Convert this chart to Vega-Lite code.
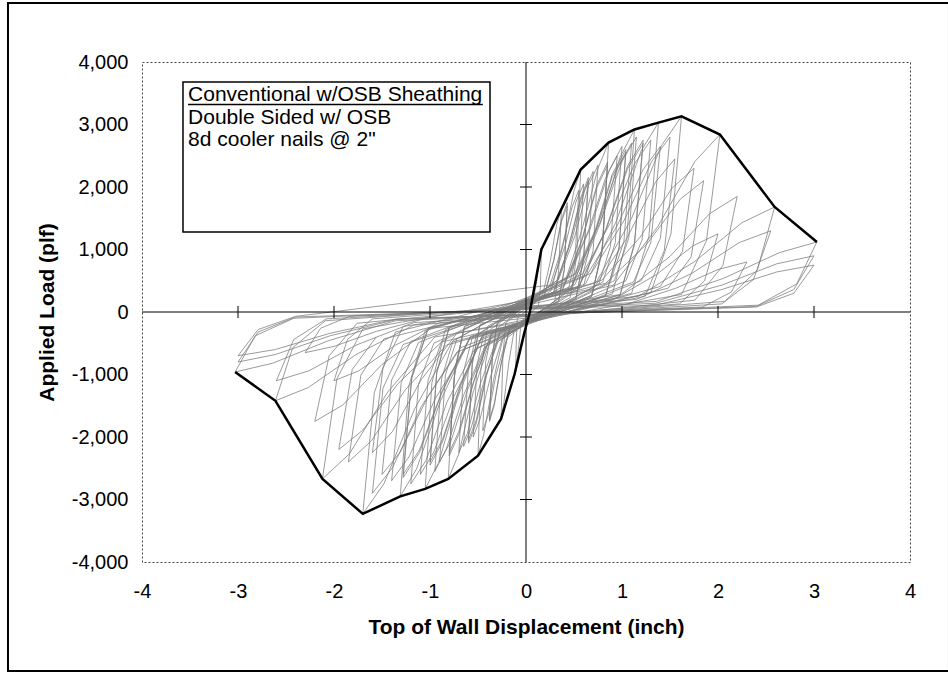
{
  "$schema": "https://vega.github.io/schema/vega-lite/v6.json",
  "width": 768,
  "height": 500,
  "autosize": {"type": "none"},
  "padding": {"left": 142, "top": 62, "right": 38, "bottom": 112},
  "background": "white",
  "config": {
    "font": "Liberation Sans",
    "view": {"stroke": "#444", "strokeWidth": 1, "strokeDash": [2, 2]},
    "locale": {"number": {"decimal": ".", "thousands": ",", "grouping": [3], "currency": ["$", ""], "minus": "-"}}
  },
  "datasets": {
    "loops": [
      {"t":0,"x":0,"y":0},
      {"t":101,"x":0.07,"y":150},{"t":102,"x":0.11,"y":480},{"t":103,"x":0.14,"y":850},{"t":104,"x":0.16,"y":1000},{"t":105,"x":0.15,"y":400},{"t":106,"x":0.13,"y":100},{"t":107,"x":-0.05,"y":-150},{"t":108,"x":-0.07,"y":-480},{"t":109,"x":-0.10,"y":-850},{"t":110,"x":-0.11,"y":-1000},{"t":111,"x":-0.10,"y":-400},{"t":112,"x":-0.09,"y":-100},
      {"t":201,"x":0.17,"y":250},{"t":202,"x":0.25,"y":790},{"t":203,"x":0.32,"y":1400},{"t":204,"x":0.37,"y":1650},{"t":205,"x":0.34,"y":660},{"t":206,"x":0.30,"y":170},{"t":207,"x":-0.12,"y":-260},{"t":208,"x":-0.18,"y":-820},{"t":209,"x":-0.23,"y":-1450},{"t":210,"x":-0.26,"y":-1710},{"t":211,"x":-0.24,"y":-680},{"t":212,"x":-0.21,"y":-170},
      {"t":301,"x":0.26,"y":340},{"t":302,"x":0.39,"y":1090},{"t":303,"x":0.50,"y":1940},{"t":304,"x":0.57,"y":2280},{"t":305,"x":0.53,"y":910},{"t":306,"x":0.46,"y":230},{"t":307,"x":-0.23,"y":-350},{"t":308,"x":-0.34,"y":-1100},{"t":309,"x":-0.44,"y":-1960},{"t":310,"x":-0.50,"y":-2300},{"t":311,"x":-0.47,"y":-920},{"t":312,"x":-0.40,"y":-230},
      {"t":401,"x":0.19,"y":260},{"t":402,"x":0.29,"y":840},{"t":403,"x":0.37,"y":1490},{"t":404,"x":0.43,"y":1750},{"t":405,"x":0.40,"y":700},{"t":406,"x":0.34,"y":180},{"t":407,"x":-0.17,"y":-260},{"t":408,"x":-0.26,"y":-840},{"t":409,"x":-0.33,"y":-1490},{"t":410,"x":-0.38,"y":-1750},{"t":411,"x":-0.35,"y":-700},{"t":412,"x":-0.30,"y":-180},
      {"t":501,"x":0.19,"y":250},{"t":502,"x":0.29,"y":820},{"t":503,"x":0.37,"y":1450},{"t":504,"x":0.43,"y":1700},{"t":505,"x":0.40,"y":680},{"t":506,"x":0.34,"y":170},{"t":507,"x":-0.17,"y":-260},{"t":508,"x":-0.26,"y":-830},{"t":509,"x":-0.33,"y":-1460},{"t":510,"x":-0.38,"y":-1720},{"t":511,"x":-0.35,"y":-690},{"t":512,"x":-0.30,"y":-170},
      {"t":601,"x":0.39,"y":410},{"t":602,"x":0.58,"y":1300},{"t":603,"x":0.75,"y":2300},{"t":604,"x":0.86,"y":2710},{"t":605,"x":0.80,"y":1080},{"t":606,"x":0.69,"y":270},{"t":607,"x":-0.36,"y":-400},{"t":608,"x":-0.55,"y":-1280},{"t":609,"x":-0.70,"y":-2270},{"t":610,"x":-0.81,"y":-2670},{"t":611,"x":-0.75,"y":-1070},{"t":612,"x":-0.65,"y":-270},
      {"t":701,"x":0.29,"y":320},{"t":702,"x":0.44,"y":1030},{"t":703,"x":0.57,"y":1830},{"t":704,"x":0.65,"y":2150},{"t":705,"x":0.60,"y":860},{"t":706,"x":0.52,"y":220},{"t":707,"x":-0.27,"y":-320},{"t":708,"x":-0.41,"y":-1010},{"t":709,"x":-0.52,"y":-1790},{"t":710,"x":-0.60,"y":-2100},{"t":711,"x":-0.56,"y":-840},{"t":712,"x":-0.48,"y":-210},
      {"t":801,"x":0.29,"y":320},{"t":802,"x":0.44,"y":1010},{"t":803,"x":0.57,"y":1790},{"t":804,"x":0.65,"y":2100},{"t":805,"x":0.60,"y":840},{"t":806,"x":0.52,"y":210},{"t":807,"x":-0.27,"y":-310},{"t":808,"x":-0.41,"y":-980},{"t":809,"x":-0.52,"y":-1740},{"t":810,"x":-0.60,"y":-2050},{"t":811,"x":-0.56,"y":-820},{"t":812,"x":-0.48,"y":-210},
      {"t":901,"x":0.51,"y":440},{"t":902,"x":0.77,"y":1400},{"t":903,"x":0.98,"y":2480},{"t":904,"x":1.13,"y":2920},{"t":905,"x":1.05,"y":1170},{"t":906,"x":0.90,"y":290},{"t":907,"x":-0.47,"y":-420},{"t":908,"x":-0.71,"y":-1360},{"t":909,"x":-0.91,"y":-2410},{"t":910,"x":-1.05,"y":-2830},{"t":911,"x":-0.98,"y":-1130},{"t":912,"x":-0.84,"y":-280},
      {"t":1001,"x":0.38,"y":360},{"t":1002,"x":0.58,"y":1150},{"t":1003,"x":0.74,"y":2040},{"t":1004,"x":0.85,"y":2400},{"t":1005,"x":0.79,"y":960},{"t":1006,"x":0.68,"y":240},{"t":1007,"x":-0.36,"y":-350},{"t":1008,"x":-0.54,"y":-1100},{"t":1009,"x":-0.70,"y":-1960},{"t":1010,"x":-0.80,"y":-2300},{"t":1011,"x":-0.74,"y":-920},{"t":1012,"x":-0.64,"y":-230},
      {"t":1101,"x":0.38,"y":350},{"t":1102,"x":0.58,"y":1130},{"t":1103,"x":0.74,"y":2000},{"t":1104,"x":0.85,"y":2350},{"t":1105,"x":0.79,"y":940},{"t":1106,"x":0.68,"y":240},{"t":1107,"x":-0.36,"y":-340},{"t":1108,"x":-0.54,"y":-1080},{"t":1109,"x":-0.70,"y":-1910},{"t":1110,"x":-0.80,"y":-2250},{"t":1111,"x":-0.74,"y":-900},{"t":1112,"x":-0.64,"y":-230},
      {"t":1201,"x":0.62,"y":450},{"t":1202,"x":0.94,"y":1450},{"t":1203,"x":1.20,"y":2580},{"t":1204,"x":1.38,"y":3030},{"t":1205,"x":1.28,"y":1210},{"t":1206,"x":1.10,"y":300},{"t":1207,"x":-0.59,"y":-440},{"t":1208,"x":-0.89,"y":-1420},{"t":1209,"x":-1.14,"y":-2510},{"t":1210,"x":-1.31,"y":-2950},{"t":1211,"x":-1.22,"y":-1180},{"t":1212,"x":-1.05,"y":-300},
      {"t":1301,"x":0.47,"y":390},{"t":1302,"x":0.71,"y":1250},{"t":1303,"x":0.90,"y":2210},{"t":1304,"x":1.04,"y":2600},{"t":1305,"x":0.97,"y":1040},{"t":1306,"x":0.83,"y":260},{"t":1307,"x":-0.45,"y":-370},{"t":1308,"x":-0.68,"y":-1180},{"t":1309,"x":-0.87,"y":-2080},{"t":1310,"x":-1.00,"y":-2450},{"t":1311,"x":-0.93,"y":-980},{"t":1312,"x":-0.80,"y":-250},
      {"t":1401,"x":0.47,"y":380},{"t":1402,"x":0.71,"y":1220},{"t":1403,"x":0.90,"y":2170},{"t":1404,"x":1.04,"y":2550},{"t":1405,"x":0.97,"y":1020},{"t":1406,"x":0.83,"y":260},{"t":1407,"x":-0.45,"y":-360},{"t":1408,"x":-0.68,"y":-1150},{"t":1409,"x":-0.87,"y":-2040},{"t":1410,"x":-1.00,"y":-2400},{"t":1411,"x":-0.93,"y":-960},{"t":1412,"x":-0.80,"y":-240},
      {"t":1501,"x":0.73,"y":470},{"t":1502,"x":1.10,"y":1500},{"t":1503,"x":1.41,"y":2660},{"t":1504,"x":1.62,"y":3130},{"t":1505,"x":1.51,"y":1250},{"t":1506,"x":1.30,"y":310},{"t":1507,"x":-0.77,"y":-480},{"t":1508,"x":-1.16,"y":-1550},{"t":1509,"x":-1.48,"y":-2750},{"t":1510,"x":-1.70,"y":-3230},{"t":1511,"x":-1.58,"y":-1290},{"t":1512,"x":-1.36,"y":-320},
      {"t":1601,"x":0.55,"y":410},{"t":1602,"x":0.83,"y":1320},{"t":1603,"x":1.06,"y":2340},{"t":1604,"x":1.22,"y":2750},{"t":1605,"x":1.13,"y":1100},{"t":1606,"x":0.98,"y":280},{"t":1607,"x":-0.58,"y":-400},{"t":1608,"x":-0.87,"y":-1270},{"t":1609,"x":-1.11,"y":-2250},{"t":1610,"x":-1.28,"y":-2650},{"t":1611,"x":-1.19,"y":-1060},{"t":1612,"x":-1.02,"y":-270},
      {"t":1701,"x":0.55,"y":400},{"t":1702,"x":0.83,"y":1300},{"t":1703,"x":1.06,"y":2300},{"t":1704,"x":1.22,"y":2700},{"t":1705,"x":1.13,"y":1080},{"t":1706,"x":0.98,"y":270},{"t":1707,"x":-0.58,"y":-390},{"t":1708,"x":-0.87,"y":-1250},{"t":1709,"x":-1.11,"y":-2210},{"t":1710,"x":-1.28,"y":-2600},{"t":1711,"x":-1.19,"y":-1040},{"t":1712,"x":-1.02,"y":-260},
      {"t":1801,"x":0.91,"y":430},{"t":1802,"x":1.37,"y":1360},{"t":1803,"x":1.76,"y":2410},{"t":1804,"x":2.02,"y":2840},{"t":1805,"x":1.88,"y":1140},{"t":1806,"x":1.62,"y":280},{"t":1807,"x":-0.95,"y":-400},{"t":1808,"x":-1.44,"y":-1280},{"t":1809,"x":-1.84,"y":-2270},{"t":1810,"x":-2.12,"y":-2670},{"t":1811,"x":-1.97,"y":-1070},{"t":1812,"x":-1.70,"y":-270},
      {"t":1901,"x":0.70,"y":370},{"t":1902,"x":1.05,"y":1180},{"t":1903,"x":1.35,"y":2080},{"t":1904,"x":1.55,"y":2450},{"t":1905,"x":1.44,"y":980},{"t":1906,"x":1.24,"y":250},{"t":1907,"x":-0.72,"y":-340},{"t":1908,"x":-1.09,"y":-1080},{"t":1909,"x":-1.39,"y":-1910},{"t":1910,"x":-1.60,"y":-2250},{"t":1911,"x":-1.49,"y":-900},{"t":1912,"x":-1.28,"y":-230},
      {"t":2001,"x":0.99,"y":280},{"t":2002,"x":1.50,"y":890},{"t":2003,"x":1.91,"y":1570},{"t":2004,"x":2.20,"y":1850},{"t":2005,"x":2.05,"y":740},{"t":2006,"x":1.76,"y":190},{"t":2007,"x":-0.99,"y":-260},{"t":2008,"x":-1.50,"y":-840},{"t":2009,"x":-1.91,"y":-1490},{"t":2010,"x":-2.20,"y":-1750},{"t":2011,"x":-2.05,"y":-700},{"t":2012,"x":-1.76,"y":-180},
      {"t":2101,"x":1.17,"y":250},{"t":2102,"x":1.76,"y":810},{"t":2103,"x":2.25,"y":1430},{"t":2104,"x":2.59,"y":1680},{"t":2105,"x":2.41,"y":670},{"t":2106,"x":2.07,"y":170},{"t":2107,"x":-1.17,"y":-210},{"t":2108,"x":-1.77,"y":-680},{"t":2109,"x":-2.27,"y":-1210},{"t":2110,"x":-2.61,"y":-1420},{"t":2111,"x":-2.43,"y":-570},{"t":2112,"x":-2.09,"y":-140},
      {"t":2201,"x":0.90,"y":190},{"t":2202,"x":1.36,"y":600},{"t":2203,"x":1.74,"y":1060},{"t":2204,"x":2.00,"y":1250},{"t":2205,"x":1.86,"y":500},{"t":2206,"x":1.60,"y":130},{"t":2207,"x":-0.90,"y":-170},{"t":2208,"x":-1.36,"y":-530},{"t":2209,"x":-1.74,"y":-940},{"t":2210,"x":-2.00,"y":-1100},{"t":2211,"x":-1.86,"y":-440},{"t":2212,"x":-1.60,"y":-110},
      {"t":2301,"x":1.15,"y":200},{"t":2302,"x":1.73,"y":620},{"t":2303,"x":2.22,"y":1110},{"t":2304,"x":2.55,"y":1300},{"t":2305,"x":2.37,"y":520},{"t":2306,"x":2.04,"y":130},{"t":2307,"x":-1.17,"y":-170},{"t":2308,"x":-1.77,"y":-530},{"t":2309,"x":-2.26,"y":-940},{"t":2310,"x":-2.60,"y":-1100},{"t":2311,"x":-2.42,"y":-440},{"t":2312,"x":-2.08,"y":-110},
      {"t":2401,"x":1.36,"y":170},{"t":2402,"x":2.06,"y":540},{"t":2403,"x":2.64,"y":950},{"t":2404,"x":3.03,"y":1120},{"t":2405,"x":2.82,"y":450},{"t":2406,"x":2.42,"y":110},{"t":2407,"x":-1.36,"y":-140},{"t":2408,"x":-2.06,"y":-460},{"t":2409,"x":-2.64,"y":-820},{"t":2410,"x":-3.03,"y":-960},{"t":2411,"x":-2.82,"y":-380},{"t":2412,"x":-2.42,"y":-100},
      {"t":2501,"x":1.04,"y":120},{"t":2502,"x":1.56,"y":380},{"t":2503,"x":2.00,"y":680},{"t":2504,"x":2.30,"y":800},{"t":2505,"x":2.14,"y":320},{"t":2506,"x":1.84,"y":80},{"t":2507,"x":-1.04,"y":-100},{"t":2508,"x":-1.56,"y":-310},{"t":2509,"x":-2.00,"y":-550},{"t":2510,"x":-2.30,"y":-650},{"t":2511,"x":-2.14,"y":-260},{"t":2512,"x":-1.84,"y":-70},
      {"t":2601,"x":1.35,"y":140},{"t":2602,"x":2.04,"y":430},{"t":2603,"x":2.61,"y":770},{"t":2604,"x":3.00,"y":900},{"t":2605,"x":2.79,"y":360},{"t":2606,"x":2.40,"y":90},{"t":2607,"x":-1.35,"y":-120},{"t":2608,"x":-2.04,"y":-380},{"t":2609,"x":-2.61,"y":-680},{"t":2610,"x":-3.00,"y":-800},{"t":2611,"x":-2.79,"y":-320},{"t":2612,"x":-2.40,"y":-80},
      {"t":2701,"x":1.35,"y":110},{"t":2702,"x":2.04,"y":360},{"t":2703,"x":2.61,"y":640},{"t":2704,"x":3.00,"y":750},{"t":2705,"x":2.79,"y":300},{"t":2706,"x":2.40,"y":80},{"t":2707,"x":-1.35,"y":-110},{"t":2708,"x":-2.04,"y":-340},{"t":2709,"x":-2.61,"y":-600},{"t":2710,"x":-3.00,"y":-700},{"t":2711,"x":-2.79,"y":-280},{"t":2712,"x":-2.40,"y":-70},
      {"t":2801,"x":0.25,"y":430},{"t":2802,"x":0.37,"y":1010},{"t":2803,"x":0.48,"y":1680},{"t":2804,"x":0.55,"y":1950},{"t":2805,"x":0.51,"y":820},{"t":2806,"x":0.44,"y":350},{"t":2807,"x":-0.20,"y":-420},{"t":2808,"x":-0.31,"y":-990},{"t":2809,"x":-0.39,"y":-1630},{"t":2810,"x":-0.45,"y":-1900},{"t":2811,"x":-0.42,"y":-800},{"t":2812,"x":-0.36,"y":-340},
      {"t":2901,"x":0.27,"y":450},{"t":2902,"x":0.41,"y":1070},{"t":2903,"x":0.52,"y":1760},{"t":2904,"x":0.60,"y":2050},{"t":2905,"x":0.56,"y":860},{"t":2906,"x":0.48,"y":370},{"t":2907,"x":-0.25,"y":-440},{"t":2908,"x":-0.37,"y":-1040},{"t":2909,"x":-0.48,"y":-1720},{"t":2910,"x":-0.55,"y":-2000},{"t":2911,"x":-0.51,"y":-840},{"t":2912,"x":-0.44,"y":-360},
      {"t":3001,"x":0.32,"y":500},{"t":3002,"x":0.48,"y":1170},{"t":3003,"x":0.61,"y":1940},{"t":3004,"x":0.70,"y":2250},{"t":3005,"x":0.65,"y":950},{"t":3006,"x":0.56,"y":410},{"t":3007,"x":-0.29,"y":-470},{"t":3008,"x":-0.44,"y":-1120},{"t":3009,"x":-0.57,"y":-1850},{"t":3010,"x":-0.65,"y":-2150},{"t":3011,"x":-0.60,"y":-900},{"t":3012,"x":-0.52,"y":-390},
      {"t":3101,"x":0.34,"y":520},{"t":3102,"x":0.51,"y":1220},{"t":3103,"x":0.65,"y":2020},{"t":3104,"x":0.75,"y":2350},{"t":3105,"x":0.70,"y":990},{"t":3106,"x":0.60,"y":420},{"t":3107,"x":-0.32,"y":-500},{"t":3108,"x":-0.48,"y":-1170},{"t":3109,"x":-0.61,"y":-1940},{"t":3110,"x":-0.70,"y":-2250},{"t":3111,"x":-0.65,"y":-950},{"t":3112,"x":-0.56,"y":-410},
      {"t":3201,"x":0.43,"y":550},{"t":3202,"x":0.65,"y":1300},{"t":3203,"x":0.83,"y":2150},{"t":3204,"x":0.95,"y":2500},{"t":3205,"x":0.88,"y":1050},{"t":3206,"x":0.76,"y":450},{"t":3207,"x":-0.41,"y":-530},{"t":3208,"x":-0.61,"y":-1250},{"t":3209,"x":-0.78,"y":-2060},{"t":3210,"x":-0.90,"y":-2400},{"t":3211,"x":-0.84,"y":-1010},{"t":3212,"x":-0.72,"y":-430},
      {"t":3301,"x":0.45,"y":580},{"t":3302,"x":0.68,"y":1380},{"t":3303,"x":0.87,"y":2280},{"t":3304,"x":1.00,"y":2650},{"t":3305,"x":0.93,"y":1110},{"t":3306,"x":0.80,"y":480},{"t":3307,"x":-0.43,"y":-560},{"t":3308,"x":-0.65,"y":-1330},{"t":3309,"x":-0.83,"y":-2190},{"t":3310,"x":-0.95,"y":-2550},{"t":3311,"x":-0.88,"y":-1070},{"t":3312,"x":-0.76,"y":-460},
      {"t":3401,"x":0.50,"y":590},{"t":3402,"x":0.75,"y":1400},{"t":3403,"x":0.96,"y":2320},{"t":3404,"x":1.10,"y":2700},{"t":3405,"x":1.02,"y":1130},{"t":3406,"x":0.88,"y":490},{"t":3407,"x":-0.50,"y":-570},{"t":3408,"x":-0.75,"y":-1350},{"t":3409,"x":-0.96,"y":-2240},{"t":3410,"x":-1.10,"y":-2600},{"t":3411,"x":-1.02,"y":-1090},{"t":3412,"x":-0.88,"y":-470},
      {"t":3501,"x":0.52,"y":620},{"t":3502,"x":0.78,"y":1460},{"t":3503,"x":1.00,"y":2410},{"t":3504,"x":1.15,"y":2800},{"t":3505,"x":1.07,"y":1180},{"t":3506,"x":0.92,"y":500},{"t":3507,"x":-0.54,"y":-610},{"t":3508,"x":-0.82,"y":-1430},{"t":3509,"x":-1.04,"y":-2370},{"t":3510,"x":-1.20,"y":-2750},{"t":3511,"x":-1.12,"y":-1160},{"t":3512,"x":-0.96,"y":-500},
      {"t":3601,"x":0.59,"y":610},{"t":3602,"x":0.88,"y":1430},{"t":3603,"x":1.13,"y":2370},{"t":3604,"x":1.30,"y":2750},{"t":3605,"x":1.21,"y":1160},{"t":3606,"x":1.04,"y":500},{"t":3607,"x":-0.63,"y":-590},{"t":3608,"x":-0.95,"y":-1400},{"t":3609,"x":-1.22,"y":-2320},{"t":3610,"x":-1.40,"y":-2700},{"t":3611,"x":-1.30,"y":-1130},{"t":3612,"x":-1.12,"y":-490},
      {"t":3701,"x":0.63,"y":580},{"t":3702,"x":0.95,"y":1380},{"t":3703,"x":1.22,"y":2280},{"t":3704,"x":1.40,"y":2650},{"t":3705,"x":1.30,"y":1110},{"t":3706,"x":1.12,"y":480},{"t":3707,"x":-0.68,"y":-570},{"t":3708,"x":-1.02,"y":-1350},{"t":3709,"x":-1.31,"y":-2240},{"t":3710,"x":-1.50,"y":-2600},{"t":3711,"x":-1.40,"y":-1090},{"t":3712,"x":-1.20,"y":-470},
      {"t":3801,"x":0.68,"y":620},{"t":3802,"x":1.02,"y":1460},{"t":3803,"x":1.31,"y":2410},{"t":3804,"x":1.50,"y":2800},{"t":3805,"x":1.40,"y":1180},{"t":3806,"x":1.20,"y":500},{"t":3807,"x":-0.72,"y":-640},{"t":3808,"x":-1.09,"y":-1510},{"t":3809,"x":-1.39,"y":-2490},{"t":3810,"x":-1.60,"y":-2900},{"t":3811,"x":-1.49,"y":-1220},{"t":3812,"x":-1.28,"y":-520},
      {"t":3901,"x":0.79,"y":510},{"t":3902,"x":1.19,"y":1200},{"t":3903,"x":1.52,"y":1980},{"t":3904,"x":1.75,"y":2300},{"t":3905,"x":1.63,"y":970},{"t":3906,"x":1.40,"y":410},{"t":3907,"x":-0.83,"y":-530},{"t":3908,"x":-1.26,"y":-1250},{"t":3909,"x":-1.61,"y":-2060},{"t":3910,"x":-1.85,"y":-2400},{"t":3911,"x":-1.72,"y":-1010},{"t":3912,"x":-1.48,"y":-430},
      {"t":4001,"x":0.83,"y":460},{"t":4002,"x":1.26,"y":1090},{"t":4003,"x":1.61,"y":1810},{"t":4004,"x":1.85,"y":2100},{"t":4005,"x":1.72,"y":880},{"t":4006,"x":1.48,"y":380},{"t":4007,"x":-0.88,"y":-480},{"t":4008,"x":-1.33,"y":-1140},{"t":4009,"x":-1.70,"y":-1890},{"t":4010,"x":-1.95,"y":-2200},{"t":4011,"x":-1.81,"y":-920},{"t":4012,"x":-1.56,"y":-400}
    ],
    "env": [
      {"i":1,"x":-3.03,"y":-960},{"i":2,"x":-2.61,"y":-1420},{"i":3,"x":-2.12,"y":-2670},{"i":4,"x":-1.70,"y":-3230},{"i":5,"x":-1.31,"y":-2950},{"i":6,"x":-1.05,"y":-2830},{"i":7,"x":-0.81,"y":-2670},{"i":8,"x":-0.50,"y":-2300},{"i":9,"x":-0.26,"y":-1710},{"i":10,"x":-0.12,"y":-1000},{"i":11,"x":-0.02,"y":-350},{"i":12,"x":0.04,"y":0},{"i":13,"x":0.16,"y":1000},{"i":14,"x":0.37,"y":1650},{"i":15,"x":0.57,"y":2280},{"i":16,"x":0.86,"y":2710},{"i":17,"x":1.13,"y":2920},{"i":18,"x":1.38,"y":3030},{"i":19,"x":1.62,"y":3130},{"i":20,"x":2.02,"y":2840},{"i":21,"x":2.59,"y":1680},{"i":22,"x":3.03,"y":1120}
    ],
    "xt": [{"v":-3},{"v":-2},{"v":-1},{"v":1},{"v":2},{"v":3}],
    "yt": [{"v":-3000},{"v":-2000},{"v":-1000},{"v":1000},{"v":2000},{"v":3000}],
    "one": [{"n": 1}]
  },
  "layer": [
    {
      "data": {"name": "loops"},
      "mark": {"type": "line", "color": "#7c7c7c", "strokeWidth": 0.9, "opacity": 0.85},
      "encoding": {
        "x": {"field": "x", "type": "quantitative", "scale": {"domain": [-4, 4], "nice": false, "zero": false},
          "axis": {"title": "Top of Wall Displacement (inch)", "values": [-4, -3, -2, -1, 0, 1, 2, 3, 4], "format": "d",
            "domain": false, "ticks": false, "grid": false,
            "labelFontSize": 20, "labelColor": "black", "labelPadding": 19, "labelFlush": false, "labelOverlap": false,
            "titleFontSize": 21, "titleFontWeight": "bold", "titleColor": "black", "titlePadding": 15}},
        "y": {"field": "y", "type": "quantitative", "scale": {"domain": [-4000, 4000], "nice": false, "zero": false},
          "axis": {"title": "Applied Load (plf)", "values": [-4000, -3000, -2000, -1000, 0, 1000, 2000, 3000, 4000], "format": ",.0f",
            "domain": false, "ticks": false, "grid": false,
            "labelFontSize": 20, "labelColor": "black", "labelPadding": 14, "labelFlush": false, "labelOverlap": false,
            "titleFontSize": 21, "titleFontWeight": "bold", "titleColor": "black", "titlePadding": 14}},
        "order": {"field": "t", "type": "quantitative"}
      }
    },
    {
      "data": {"name": "one"},
      "mark": {"type": "rule", "color": "black", "strokeWidth": 1},
      "encoding": {
        "x": {"datum": 0, "type": "quantitative"},
        "y": {"datum": -4000, "type": "quantitative"},
        "y2": {"datum": 4000}
      }
    },
    {
      "data": {"name": "one"},
      "mark": {"type": "rule", "color": "black", "strokeWidth": 1},
      "encoding": {
        "y": {"datum": 0, "type": "quantitative"},
        "x": {"datum": -4, "type": "quantitative"},
        "x2": {"datum": 4}
      }
    },
    {
      "data": {"name": "xt"},
      "mark": {"type": "tick", "orient": "vertical", "size": 12, "thickness": 1, "color": "black", "opacity": 1},
      "encoding": {
        "x": {"field": "v", "type": "quantitative"},
        "y": {"datum": 0, "type": "quantitative"}
      }
    },
    {
      "data": {"name": "yt"},
      "mark": {"type": "tick", "orient": "horizontal", "size": 12, "thickness": 1, "color": "black", "opacity": 1},
      "encoding": {
        "y": {"field": "v", "type": "quantitative"},
        "x": {"datum": 0, "type": "quantitative"}
      }
    },
    {
      "data": {"name": "env"},
      "mark": {"type": "line", "color": "black", "strokeWidth": 2.5},
      "encoding": {
        "x": {"field": "x", "type": "quantitative"},
        "y": {"field": "y", "type": "quantitative"},
        "order": {"field": "i", "type": "quantitative"}
      }
    },
    {
      "data": {"name": "one"},
      "mark": {"type": "rect", "fill": "white", "stroke": "black", "strokeWidth": 1.5},
      "encoding": {
        "x": {"datum": -3.573, "type": "quantitative"},
        "x2": {"datum": -0.375},
        "y": {"datum": 3680, "type": "quantitative"},
        "y2": {"datum": 1280}
      }
    },
    {
      "data": {"name": "one"},
      "mark": {"type": "text", "text": "Conventional w/OSB Sheathing", "align": "left", "baseline": "middle", "fontSize": 21, "color": "black"},
      "encoding": {
        "x": {"datum": -3.52, "type": "quantitative"},
        "y": {"datum": 3472, "type": "quantitative"}
      }
    },
    {
      "data": {"name": "one"},
      "mark": {"type": "rule", "color": "black", "strokeWidth": 1.5},
      "encoding": {
        "x": {"datum": -3.52, "type": "quantitative"},
        "x2": {"datum": -0.45},
        "y": {"datum": 3320, "type": "quantitative"}
      }
    },
    {
      "data": {"name": "one"},
      "mark": {"type": "text", "text": "Double Sided w/ OSB", "align": "left", "baseline": "middle", "fontSize": 21, "color": "black"},
      "encoding": {
        "x": {"datum": -3.52, "type": "quantitative"},
        "y": {"datum": 3104, "type": "quantitative"}
      }
    },
    {
      "data": {"name": "one"},
      "mark": {"type": "text", "text": "8d cooler nails @ 2\"", "align": "left", "baseline": "middle", "fontSize": 21, "color": "black"},
      "encoding": {
        "x": {"datum": -3.52, "type": "quantitative"},
        "y": {"datum": 2752, "type": "quantitative"}
      }
    },
    {
      "data": {"name": "one"},
      "mark": {"type": "rect", "fillOpacity": 0, "stroke": "black", "strokeWidth": 2},
      "encoding": {
        "x": {"datum": -5.396, "type": "quantitative"},
        "x2": {"datum": 4.406},
        "y": {"datum": 4944, "type": "quantitative"},
        "y2": {"datum": -5744}
      }
    }
  ]
}
